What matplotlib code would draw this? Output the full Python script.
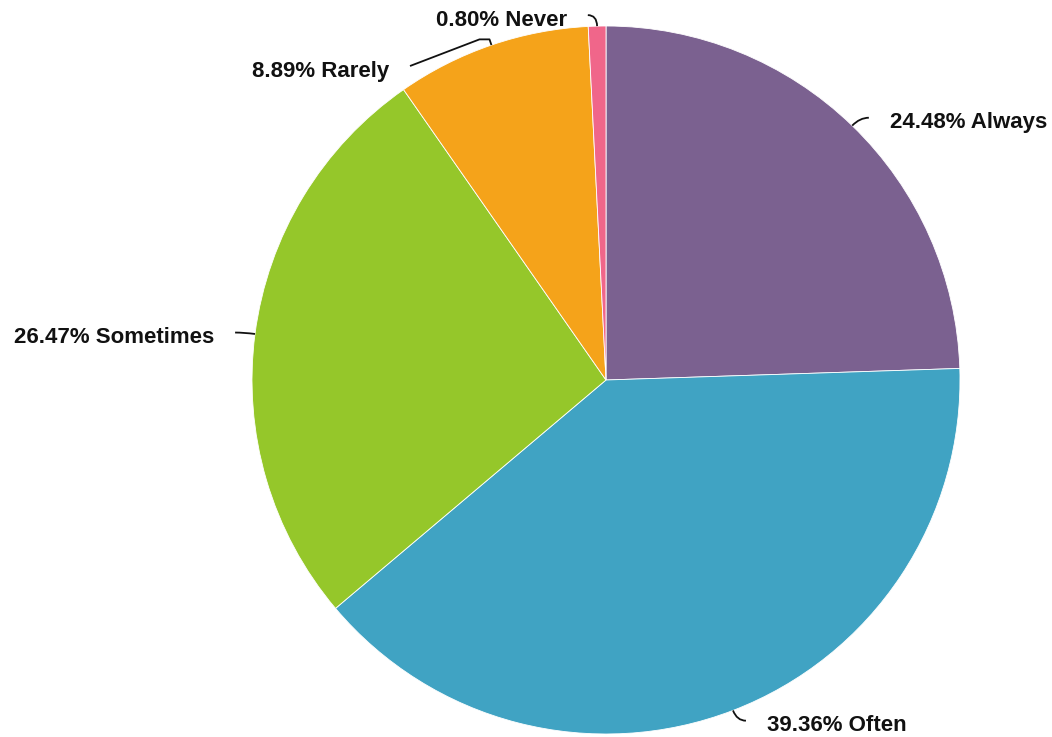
import numpy as np
import matplotlib
matplotlib.use("Agg")
import matplotlib.pyplot as plt
from matplotlib.path import Path
from matplotlib.patches import PathPatch

# Данные диаграммы
categories = ["Always", "Often", "Sometimes", "Rarely", "Never"]
shares = [24.48, 39.36, 26.47, 8.89, 0.80]
colors = ["#7b6190", "#40a3c3", "#95c72a", "#f5a31a", "#f0668a"]

plt.rcParams["font.family"] = ["Liberation Sans", "DejaVu Sans"]

fig = plt.figure(figsize=(10.52, 7.37), dpi=100)
ax = fig.add_axes([0, 0, 1, 1])

# координаты в пикселях, ось y направлена вниз
cx, cy, r = 606, 380, 354
ax.pie(shares, colors=colors, startangle=-90, counterclock=True,
       center=(cx, cy), radius=r,
       wedgeprops=dict(edgecolor="white", linewidth=0.6))
ax.set_xlim(0, 1052)
ax.set_ylim(737, 0)
ax.set_aspect("equal")
ax.axis("off")

# Подписи с выносными линиями
total = sum(shares)
cum = 0.0
for name, val in zip(categories, shares):
    mid = (cum + val / 2) / total * 2 * np.pi
    cum += val
    ux, uy = np.sin(mid), -np.cos(mid)
    p0 = (cx + r * ux, cy + r * uy)
    side = 1 if ux >= 0 else -1
    if name == "Rarely":
        # подпись сдвинута вниз, чтобы не налезать на соседнюю
        p1 = (cx + (r + 6) * ux, cy + (r + 6) * uy)
        p2 = (410, 66)
        path = Path([p0, p1, (p1[0] - 10, p1[1]), p2],
                    [Path.MOVETO, Path.LINETO, Path.LINETO, Path.LINETO])
    else:
        p1 = (cx + (r + 11) * ux, cy + (r + 11) * uy)
        p2 = (p1[0] + side * 9, p1[1])
        path = Path([p0, p1, p2], [Path.MOVETO, Path.CURVE3, Path.CURVE3])
    ax.add_patch(PathPatch(path, facecolor="none", edgecolor="#111111",
                           lw=1.3, joinstyle="round"))
    ax.text(p2[0] + side * 21, p2[1] + 5, f"{val:.2f}% {name}",
            ha="left" if side > 0 else "right", va="center",
            fontsize=16, fontweight="bold", color="#111111")

fig.savefig("out.png", dpi=100)
